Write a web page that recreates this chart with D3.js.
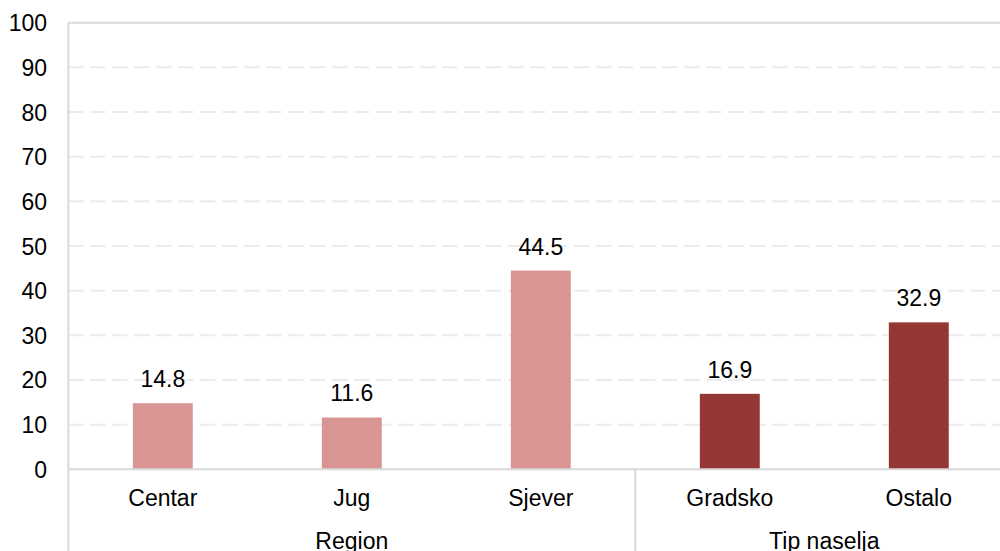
<!DOCTYPE html>
<html>
<head>
<meta charset="utf-8">
<script src="https://cdn.jsdelivr.net/npm/d3@7"></script>
<style>
  html, body { margin: 0; padding: 0; background: #fff; }
  svg { display: block; font-family: "Liberation Sans", Arial, sans-serif; }
</style>
</head>
<body>
<div id="chart"></div>
<script>
// Chart data
const categories = ['Centar', 'Jug', 'Sjever', 'Gradsko', 'Ostalo'];
const values = [14.8, 11.6, 44.5, 16.9, 32.9];
const groups = ['Region', 'Region', 'Region', 'Tip naselja', 'Tip naselja'];
const groupNames = ['Region', 'Tip naselja'];
const yTicks = [0, 10, 20, 30, 40, 50, 60, 70, 80, 90, 100];

const width = 1000;
const height = 551;
const colors = { 'Region': '#d99594', 'Tip naselja': '#953735' };

const svg = d3.select('#chart')
  .append('svg')
  .attr('width', width)
  .attr('height', height);

// Plot area extends past the right edge of the picture (cropped original)
const x = d3.scaleBand()
  .domain(categories)
  .range([68.3, 1013.3])
  .paddingInner(0.683)
  .paddingOuter(0.3415);

const y = d3.scaleLinear()
  .domain([0, 100])
  .range([469.3, 22.7]);

// Dashed horizontal grid
svg.selectAll('.grid')
  .data(yTicks.filter((d) => d > 0 && d < 100))
  .enter()
  .append('line')
  .attr('class', 'grid')
  .attr('x1', 68.3)
  .attr('x2', width)
  .attr('y1', (d) => y(d))
  .attr('y2', (d) => y(d))
  .attr('stroke', '#ebebeb')
  .attr('stroke-width', 2)
  .attr('stroke-dasharray', '15,7');

// Top border
svg.append('line')
  .attr('x1', 68.3).attr('x2', width)
  .attr('y1', y(100)).attr('y2', y(100))
  .attr('stroke', '#d9d9d9').attr('stroke-width', 2);

// Bars
svg.selectAll('.bar')
  .data(categories)
  .enter()
  .append('rect')
  .attr('class', 'bar')
  .attr('x', (d) => x(d))
  .attr('width', x.bandwidth())
  .attr('y', (d, i) => y(values[i]))
  .attr('height', (d, i) => y(0) - y(values[i]))
  .attr('fill', (d, i) => colors[groups[i]]);

// Value labels
svg.selectAll('.value')
  .data(categories)
  .enter()
  .append('text')
  .attr('class', 'value')
  .attr('x', (d) => x(d) + x.bandwidth() / 2)
  .attr('y', (d, i) => y(values[i]) - 16)
  .attr('text-anchor', 'middle')
  .style('font-size', '23px')
  .style('fill', '#000')
  .text((d, i) => values[i].toFixed(1));

// Axis lines
svg.append('line')
  .attr('x1', 68.3).attr('x2', width)
  .attr('y1', y(0)).attr('y2', y(0))
  .attr('stroke', '#d9d9d9').attr('stroke-width', 2);

svg.append('line')
  .attr('x1', 68.3).attr('x2', 68.3)
  .attr('y1', y(100)).attr('y2', height)
  .attr('stroke', '#d9d9d9').attr('stroke-width', 2);

// Y tick labels
svg.selectAll('.ytick')
  .data(yTicks)
  .enter()
  .append('text')
  .attr('class', 'ytick')
  .attr('x', 47)
  .attr('y', (d) => y(d) + 8.5)
  .attr('text-anchor', 'end')
  .style('font-size', '23px')
  .style('fill', '#000')
  .text((d) => d);

// Category labels
svg.selectAll('.xcat')
  .data(categories)
  .enter()
  .append('text')
  .attr('class', 'xcat')
  .attr('x', (d) => x(d) + x.bandwidth() / 2)
  .attr('y', 506)
  .attr('text-anchor', 'middle')
  .style('font-size', '23px')
  .style('fill', '#000')
  .text((d) => d);

// Group separators and group labels
const step = x.step();
groupNames.forEach((g) => {
  const members = categories.filter((c, i) => groups[i] === g);
  const x0 = x(members[0]) - x.paddingInner() * step / 2;
  const x1 = x(members[members.length - 1]) + x.bandwidth() + x.paddingInner() * step / 2;
  svg.append('line')
    .attr('x1', x1).attr('x2', x1)
    .attr('y1', y(0)).attr('y2', height)
    .attr('stroke', '#d9d9d9').attr('stroke-width', 2);
  svg.append('text')
    .attr('x', (x0 + x1) / 2)
    .attr('y', 549)
    .attr('text-anchor', 'middle')
    .style('font-size', '23px')
    .style('fill', '#000')
    .text(g);
});
</script>
</body>
</html>
